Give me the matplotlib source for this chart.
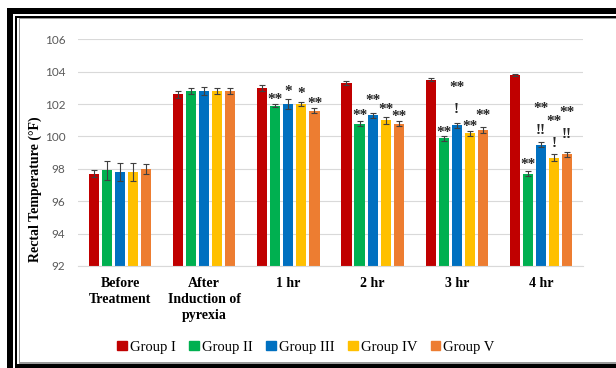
import matplotlib.pyplot as plt
import numpy as np
from matplotlib.patches import Patch, Rectangle

# Rectal temperature (°F) per time point, one list per group
categories = ['Before\nTreatment', 'After\nInduction of\npyrexia', '1 hr', '2 hr', '3 hr', '4 hr']
groups = ['Group I', 'Group II', 'Group III', 'Group IV', 'Group V']

group1 = [97.7, 102.6, 103.0, 103.3, 103.5, 103.8]
group2 = [97.9, 102.8, 101.9, 100.8, 99.9, 97.7]
group3 = [97.8, 102.8, 102.0, 101.3, 100.7, 99.5]
group4 = [97.8, 102.8, 102.0, 101.0, 100.2, 98.7]
group5 = [98.0, 102.8, 101.6, 100.8, 100.4, 98.9]

err1 = [0.2, 0.2, 0.2, 0.1, 0.1, 0.05]
err2 = [0.6, 0.2, 0.1, 0.15, 0.15, 0.15]
err3 = [0.55, 0.25, 0.3, 0.15, 0.15, 0.15]
err4 = [0.55, 0.2, 0.1, 0.2, 0.15, 0.2]
err5 = [0.3, 0.2, 0.15, 0.15, 0.2, 0.15]

# significance marks: (time point index, group index, label)
sig_marks = [
    (2, 1, '**'), (2, 2, '*'), (2, 3, '*'), (2, 4, '**'),
    (3, 1, '**'), (3, 2, '**'), (3, 3, '**'), (3, 4, '**'),
    (4, 1, '**'), (4, 2, '!'), (4, 2, '**'), (4, 3, '**'), (4, 4, '**'),
    (5, 1, '**'), (5, 2, '!!'), (5, 2, '**'), (5, 3, '!'), (5, 3, '**'),
    (5, 4, '!!'), (5, 4, '**'),
]
# pixel lift of each mark's centre above its error bar
sig_lift = [9, 12, 13, 9,
            10, 17, 12, 9,
            8, 15, 40, 9, 16,
            11, 13, 38, 12, 37, 19, 44]

values = [group1, group2, group3, group4, group5]
errors = [err1, err2, err3, err4, err5]
colors = ['#C00000', '#00B050', '#0070C0', '#FFC000', '#ED7D31']

fig = plt.figure(figsize=(6.16, 3.68), dpi=100)
ax = fig.add_axes([0.1266, 0.2772, 0.8198, 0.6160])

x = np.arange(len(categories))
pitch = 0.155
width = 0.12
for i, (vals, errs, c) in enumerate(zip(values, errors, colors)):
    pos = x + (i - 2) * pitch
    ax.bar(pos, vals, width, color=c, zorder=2)
    ax.errorbar(pos, vals, yerr=errs, fmt='none', ecolor='#404040',
                elinewidth=0.8, capsize=2.5, capthick=0.8, zorder=3)

for (ci, gi, label), lift in zip(sig_marks, sig_lift):
    top = values[gi][ci] + errors[gi][ci]
    px = x[ci] + (gi - 2) * pitch
    # glyph centre sits above the baseline
    base = lift - (8 if '*' in label else 5)
    ax.annotate(label, (px, top), xytext=(0, base * 0.72), textcoords='offset points',
                ha='center', va='baseline', fontsize=11, family='Liberation Serif',
                fontweight='bold', color='#262626', zorder=4)

ax.set_xlim(-0.5, len(categories) - 0.5)
ax.set_ylim(92, 106)
ax.set_yticks(np.arange(92, 107, 2))
ax.set_xticks(x)
ax.set_xticklabels(categories, family='Liberation Serif', fontweight='bold', fontsize=10,
                   linespacing=1.3)
for lab in ax.get_yticklabels():
    lab.set_family('Lato')
    lab.set_fontsize(8.5)
    lab.set_color('#595959')
ax.tick_params(axis='both', length=0)
ax.tick_params(axis='y', pad=9)
ax.tick_params(axis='x', pad=8)
ax.grid(axis='y', color='#D9D9D9', linewidth=0.8, zorder=0)
for s in ['top', 'right', 'left']:
    ax.spines[s].set_visible(False)
ax.spines['bottom'].set_color('#D9D9D9')
ax.set_ylabel('Rectal Temperature (°F)', family='Liberation Serif', fontweight='bold',
              fontsize=10)
ax.yaxis.set_label_coords(-0.072, 0.34)

handles = [Patch(color=c, label=g) for c, g in zip(colors, groups)]
fig.legend(handles=handles, loc='center', bbox_to_anchor=(306 / 616, 1 - 347 / 368), ncol=5,
           frameon=False, prop={'family': 'Liberation Serif', 'size': 10.5},
           handlelength=0.65, handleheight=0.65, handletextpad=0.2, columnspacing=0.95)

# page frame around the figure
W, H = 616, 368
def hbar(y0, y1, x0, color):
    fig.patches.append(Rectangle((x0 / W, 1 - y1 / H), 1 - x0 / W, (y1 - y0) / H,
                                 transform=fig.transFigure, color=color, lw=0))
def vbar(x0, x1, y0, y1, color):
    fig.patches.append(Rectangle((x0 / W, 1 - y1 / H), (x1 - x0) / W, (y1 - y0) / H,
                                 transform=fig.transFigure, color=color, lw=0))

hbar(8.3, 14, 7.3, 'black')
vbar(7.3, 13.3, 8.3, 368, 'black')
hbar(16, 17.7, 15, 'black')
vbar(15, 16.7, 16, 368, 'black')
hbar(18.3, 19.3, 18.5, '#9a9a9a')
vbar(18.5, 19.5, 18.3, 363, '#9a9a9a')
hbar(362.3, 363.5, 18.5, '#9a9a9a')
hbar(364.3, 368, 15, 'black')

fig.savefig('out.png', dpi=100)
